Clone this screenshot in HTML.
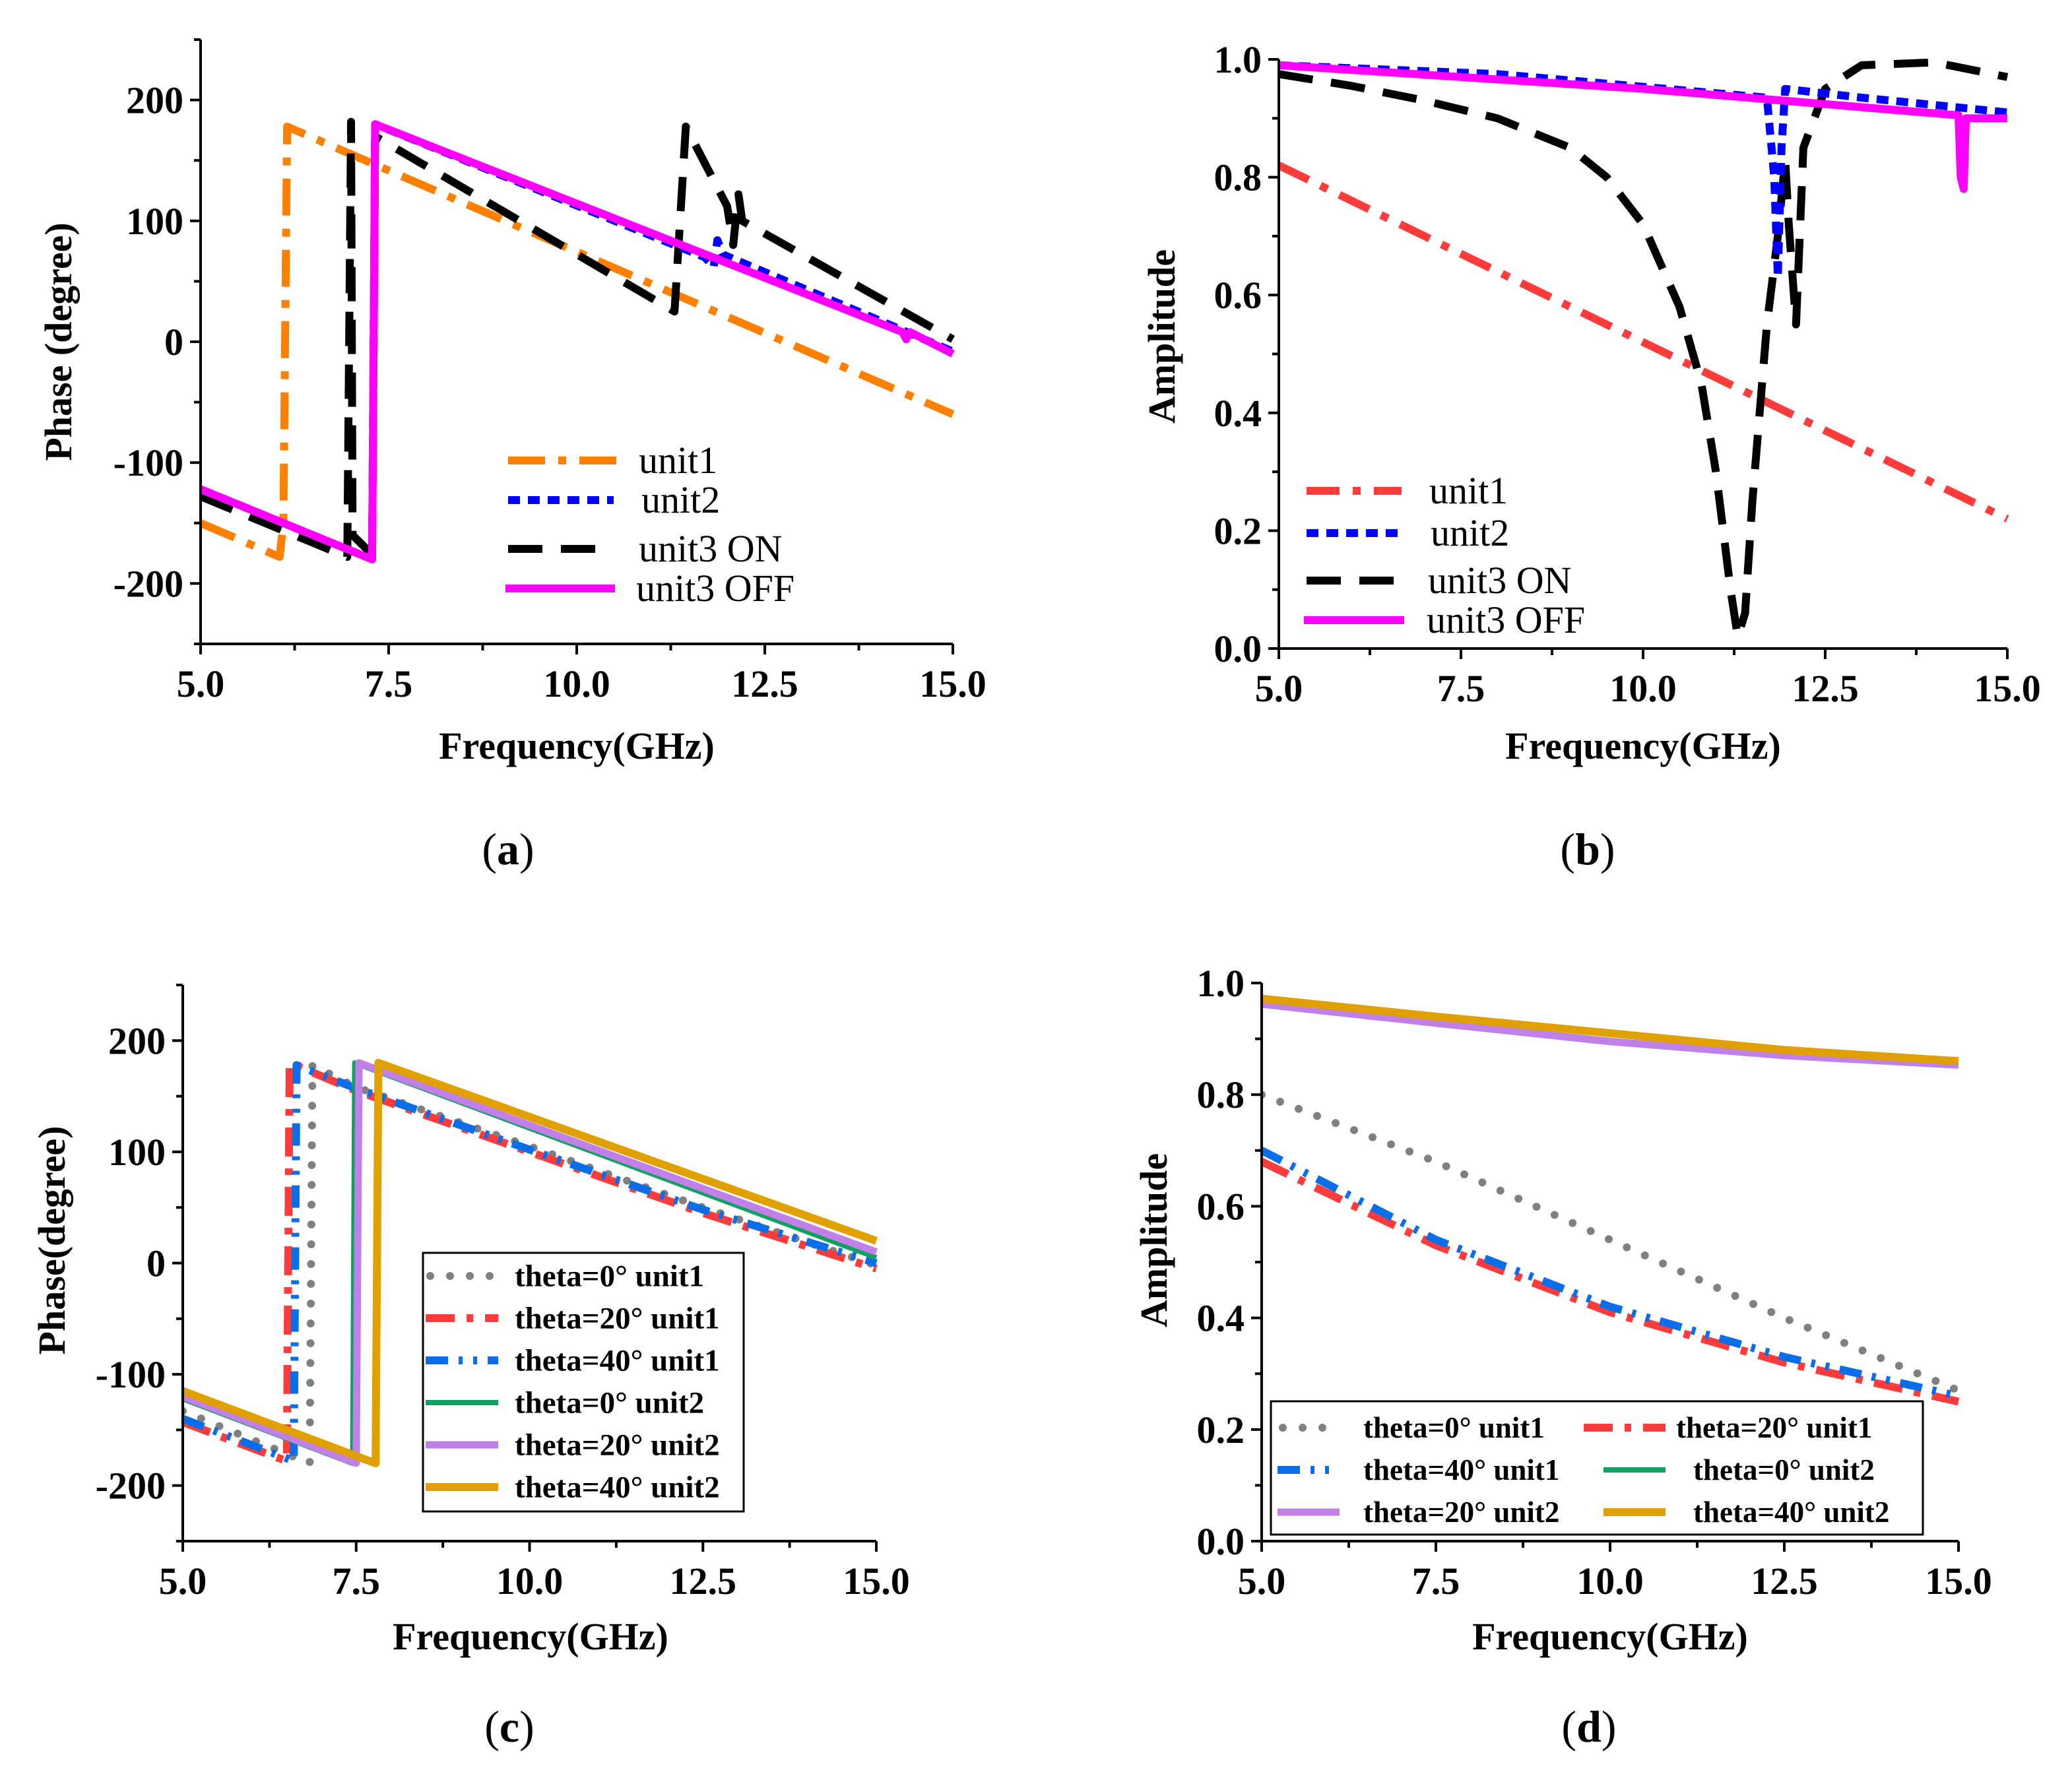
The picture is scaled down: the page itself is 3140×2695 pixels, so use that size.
<!DOCTYPE html>
<html><head><meta charset="utf-8"><style>
html,body{margin:0;padding:0;background:#fff}
svg{display:block}
text{font-family:"Liberation Serif",serif}
</style></head><body>
<svg id="fig" width="3140" height="2695" viewBox="0 0 3140 2695" xmlns="http://www.w3.org/2000/svg"></svg>
<script>
// ---------- Panel (a) data: phase ----------
const aUnit1F=[5,6.05,6.1,6.15,15];
const aUnit1V=[-150,-178,-150,178,-60];
const aUnit2F=[5,7.28,7.32,11.7,11.82,11.87,11.95,15];
const aUnit2V=[-122,-180,180,70,62,84,72,-8];
const aUnit3OnF=[5,6.95,7.0,7.02,7.28,7.32,11.3,11.45,12.0,12.08,12.15,12.2,15];
const aUnit3OnV=[-128,-178,182,-160,-176,170,25,178,112,80,122,100,2];
const aUnit3OffF=[5,7.28,7.32,14.33,14.38,14.43,15];
const aUnit3OffV=[-122,-180,180,8,2,8,-10];
// ---------- Panel (b) data: amplitude ----------
const bUnit1F=[5,7.5,10,12.5,15];
const bUnit1V=[0.82,0.67,0.52,0.37,0.22];
const bUnit2F=[5,8,11.7,11.8,11.85,11.9,11.95,13,15];
const bUnit2V=[0.99,0.975,0.935,0.80,0.63,0.85,0.95,0.935,0.91];
const bUnit3OnF=[5,6,7,8,9,9.5,10,10.5,10.8,11.0,11.2,11.3,11.4,11.5,11.7,11.85,11.95,12.0,12.1,12.15,12.2,12.5,13,14,15];
const bUnit3OnV=[0.975,0.955,0.93,0.9,0.85,0.8,0.72,0.58,0.45,0.3,0.1,0.02,0.06,0.25,0.55,0.7,0.83,0.72,0.55,0.7,0.85,0.95,0.99,0.995,0.97];
const bUnit3OffF=[5,10,14.33,14.36,14.4,14.43,15];
const bUnit3OffV=[0.99,0.95,0.905,0.8,0.78,0.9,0.9];
// ---------- Panel (c) data: phase vs theta ----------
const cT0U1F=[5,6.83,6.87,7.5,10,12.5,15];
const cT0U1V=[-133,-180,178,158,105,50,-2];
const cT20U1F=[5,6.5,6.54,7.5,10,12.5,15];
const cT20U1V=[-143,-178,180,155,100,45,-5];
const cT40U1F=[5,6.6,6.64,7.5,10,12.5,15];
const cT40U1V=[-140,-178,178,157,102,48,0];
const cT0U2F=[5,7.45,7.48,15];
const cT0U2V=[-122,-180,180,5];
const cT20U2F=[5,7.5,7.54,15];
const cT20U2V=[-120,-180,180,10];
const cT40U2F=[5,7.78,7.82,15];
const cT40U2V=[-115,-180,180,20];
// ---------- Panel (d) data: amplitude vs theta ----------
const dF=[5,7.5,10,12.5,15];
const dT0U1=[0.80,0.68,0.54,0.40,0.27];
const dT20U1=[0.68,0.53,0.41,0.32,0.25];
const dT40U1=[0.70,0.54,0.42,0.33,0.26];
const dT0U2=[0.963,0.93,0.897,0.872,0.855];
const dT20U2=[0.962,0.928,0.895,0.87,0.853];
const dT40U2=[0.972,0.94,0.91,0.88,0.86];
// ticks
const xTicks=[5,7.5,10,12.5,15];
const xTickLabels=["5.0","7.5","10.0","12.5","15.0"];
const phaseTicks=[-200,-100,0,100,200];
const phaseTickLabels=["-200","-100","0","100","200"];
const ampTicks=[0,0.2,0.4,0.6,0.8,1.0];
const ampTickLabels=["0.0","0.2","0.4","0.6","0.8","1.0"];

const NS="http://www.w3.org/2000/svg";
const svg=document.getElementById('fig');
function mk(tag,attrs,parent){const e=document.createElementNS(NS,tag);for(const k in attrs)e.setAttribute(k,attrs[k]);(parent||svg).appendChild(e);return e;}

const STY={
 orangeDD:{stroke:'#ff8000',w:12,dash:'56 20 12 20'},
 blueDot:{stroke:'#0000ff',w:12,dash:'18 12'},
 blackDash:{stroke:'#000000',w:12,dash:'52 28'},
 magenta:{stroke:'#ff00ff',w:12,dash:''},
 redDD:{stroke:'#ff3b3b',w:12,dash:'50 20 12 20'},
 gray:{stroke:'#808080',w:12,dash:'0 30',cap:'round'},
 red2:{stroke:'#ff3b3b',w:12,dash:'44 18 10 18'},
 blue2:{stroke:'#0a6ee8',w:12,dash:'34 16 6 16 6 16'},
 green:{stroke:'#10a060',w:8,dash:''},
 purple:{stroke:'#c080e8',w:11,dash:''},
 gold:{stroke:'#e0a000',w:12,dash:''}
};

function panel(p){
 const g=mk('g',{});
 
 
 const sx=f=>p.x0+(f-p.xmin)/(p.xmax-p.xmin)*(p.x1-p.x0);
 const sy=v=>p.yb+(v-p.ymin)/(p.ymax-p.ymin)*(p.yt-p.yb);
 const clip=mk('clipPath',{id:'clip'+p.id},g);
 mk('rect',{x:p.x0,y:p.yt-10,width:p.x1-p.x0+6,height:p.yb-p.yt+10},clip);
 const sg=mk('g',{'clip-path':'url(#clip'+p.id+')'},g);
 p.series.forEach(s=>{
  const st=STY[s.style];
  const d=s.f.map((f,i)=>(i?'L':'M')+sx(f).toFixed(1)+' '+sy(s.v[i]).toFixed(1)).join(' ');
  const path=mk('path',{d:d,fill:'none',stroke:st.stroke,'stroke-width':st.w,'stroke-dasharray':st.dash,'stroke-linecap':st.cap||'butt','stroke-linejoin':'round'},sg);
  
  
 });
 const ax=mk('g',{stroke:'#000','stroke-width':4},g);
 
 
 mk('line',{x1:p.x0,y1:p.yt,x2:p.x0,y2:p.yb+2},ax);
 mk('line',{x1:p.x0-2,y1:p.yb,x2:p.x1,y2:p.yb},ax);
 xTicks.forEach((t,i)=>{
  mk('line',{x1:sx(t),y1:p.yb,x2:sx(t),y2:p.yb+16},ax);
  if(i<xTicks.length-1){const m=sx(t+1.25);mk('line',{x1:m,y1:p.yb,x2:m,y2:p.yb+10},ax);}
  const tx=mk('text',{x:sx(t),y:p.yb+80,'text-anchor':'middle','font-size':58,'font-weight':'bold'},g);
  tx.textContent=xTickLabels[i];
  
  
 });
 p.yticks.forEach((t,i)=>{
  mk('line',{x1:p.x0,y1:sy(t),x2:p.x0-16,y2:sy(t)},ax);
  const ty=mk('text',{x:p.x0-26,y:sy(t)+20,'text-anchor':'end','font-size':58,'font-weight':'bold'},g);
  ty.textContent=p.ylabels[i];
  
  
 });
 p.yminor.forEach(t=>{mk('line',{x1:p.x0,y1:sy(t),x2:p.x0-10,y2:sy(t)},ax);});
 const xt=mk('text',{x:p.xlx,y:p.xly,'text-anchor':'middle','font-size':58,'font-weight':'bold'},g);
 xt.textContent='Frequency(GHz)';
 
 
 const yt=mk('text',{x:0,y:0,transform:`translate(${p.ylx},${p.yly}) rotate(-90)`,'text-anchor':'middle','font-size':58,'font-weight':'bold'},g);
 yt.textContent=p.ytitle;
 
 
 const pl=mk('text',{x:p.plx,y:p.ply,'text-anchor':'middle','font-size':68},g);
 pl.innerHTML='(<tspan font-weight="bold">'+p.letter+'</tspan>)';
 
 
 if(p.box){const b=mk('rect',{x:p.box[0],y:p.box[1],width:p.box[2],height:p.box[3],fill:'#fff',stroke:'#000','stroke-width':3},g);}
 p.legend.forEach(l=>{
  const st=STY[l.style];
  const lg=mk('g',{},g);
  
  
  mk('line',{x1:l.lx0,y1:l.y,x2:l.lx1,y2:l.y,stroke:st.stroke,'stroke-width':st.w,'stroke-dasharray':st.dash,'stroke-linecap':st.cap||'butt'},lg);
  const t=mk('text',{x:l.tx,y:l.y+(p.lfs*0.33),'font-size':p.lfs,'font-weight':p.lbold?'bold':'normal'},lg);
  t.textContent=l.text;
 });
}

const phMinor=[-250,-150,-50,50,150,250];
const ampMinor=[0.1,0.3,0.5,0.7,0.9];

panel({id:'a',name:'panel-a-phase',letter:'a',x0:304,x1:1444,xmin:5,xmax:15,yt:60,yb:976,ymin:-250,ymax:250,
 yticks:phaseTicks,ylabels:phaseTickLabels,yminor:phMinor,ytitle:'Phase (degree)',ylx:108,yly:518,xlx:874,xly:1150,plx:770,ply:1310,
 series:[{name:'unit1-line',style:'orangeDD',f:aUnit1F,v:aUnit1V},{name:'unit3-on-line',style:'blackDash',f:aUnit3OnF,v:aUnit3OnV},{name:'unit2-line',style:'blueDot',f:aUnit2F,v:aUnit2V},{name:'unit3-off-line',style:'magenta',f:aUnit3OffF,v:aUnit3OffV}],
 lfs:58,lbold:false,legend:[
  {style:'orangeDD',lx0:770,lx1:940,tx:968,y:698,text:'unit1'},
  {style:'blueDot',lx0:770,lx1:930,tx:972,y:758,text:'unit2'},
  {style:'blackDash',lx0:770,lx1:930,tx:968,y:832,text:'unit3 ON'},
  {style:'magenta',lx0:766,lx1:932,tx:964,y:892,text:'unit3 OFF'}]});

panel({id:'b',name:'panel-b-amplitude',letter:'b',x0:1938,x1:3042,xmin:5,xmax:15,yt:90,yb:983,ymin:0,ymax:1.0,
 yticks:ampTicks,ylabels:ampTickLabels,yminor:ampMinor,ytitle:'Amplitude',ylx:1780,yly:510,xlx:2490,xly:1150,plx:2406,ply:1310,
 series:[{name:'unit1-line',style:'redDD',f:bUnit1F,v:bUnit1V},{name:'unit3-on-line',style:'blackDash',f:bUnit3OnF,v:bUnit3OnV},{name:'unit2-line',style:'blueDot',f:bUnit2F,v:bUnit2V},{name:'unit3-off-line',style:'magenta',f:bUnit3OffF,v:bUnit3OffV}],
 lfs:58,lbold:false,legend:[
  {style:'redDD',lx0:1980,lx1:2124,tx:2166,y:744,text:'unit1'},
  {style:'blueDot',lx0:1980,lx1:2124,tx:2168,y:808,text:'unit2'},
  {style:'blackDash',lx0:1980,lx1:2124,tx:2164,y:880,text:'unit3 ON'},
  {style:'magenta',lx0:1976,lx1:2128,tx:2162,y:940,text:'unit3 OFF'}]});

panel({id:'c',name:'panel-c-phase-theta',letter:'c',x0:277,x1:1328,xmin:5,xmax:15,yt:1493,yb:2336,ymin:-250,ymax:250,
 yticks:phaseTicks,ylabels:phaseTickLabels,yminor:phMinor,ytitle:'Phase(degree)',ylx:98,yly:1880,xlx:804,xly:2500,plx:772,ply:2640,
 series:[{name:'theta0-unit1-line',style:'gray',f:cT0U1F,v:cT0U1V},{name:'theta20-unit1-line',style:'red2',f:cT20U1F,v:cT20U1V},{name:'theta40-unit1-line',style:'blue2',f:cT40U1F,v:cT40U1V},{name:'theta0-unit2-line',style:'green',f:cT0U2F,v:cT0U2V},{name:'theta20-unit2-line',style:'purple',f:cT20U2F,v:cT20U2V},{name:'theta40-unit2-line',style:'gold',f:cT40U2F,v:cT40U2V}],
 box:[641,1899,486,392],lfs:47,lbold:true,legend:[
  {style:'gray',lx0:652,lx1:755,tx:780,y:1934,text:'theta=0° unit1'},
  {style:'red2',lx0:645,lx1:755,tx:780,y:1998,text:'theta=20° unit1'},
  {style:'blue2',lx0:645,lx1:755,tx:780,y:2062,text:'theta=40° unit1'},
  {style:'green',lx0:645,lx1:755,tx:780,y:2126,text:'theta=0° unit2'},
  {style:'purple',lx0:645,lx1:755,tx:780,y:2190,text:'theta=20° unit2'},
  {style:'gold',lx0:645,lx1:755,tx:780,y:2254,text:'theta=40° unit2'}]});

panel({id:'d',name:'panel-d-amplitude-theta',letter:'d',x0:1912,x1:2968,xmin:5,xmax:15,yt:1490,yb:2336,ymin:0,ymax:1.0,
 yticks:ampTicks,ylabels:ampTickLabels,yminor:ampMinor,ytitle:'Amplitude',ylx:1768,yly:1880,xlx:2440,xly:2500,plx:2408,ply:2640,
 series:[{name:'theta0-unit1-line',style:'gray',f:dF,v:dT0U1},{name:'theta20-unit1-line',style:'red2',f:dF,v:dT20U1},{name:'theta40-unit1-line',style:'blue2',f:dF,v:dT40U1},{name:'theta0-unit2-line',style:'green',f:dF,v:dT0U2},{name:'theta20-unit2-line',style:'purple',f:dF,v:dT20U2},{name:'theta40-unit2-line',style:'gold',f:dF,v:dT40U2}],
 box:[1926,2124,988,202],lfs:45,lbold:true,legend:[
  {style:'gray',lx0:1944,lx1:2030,tx:2066,y:2164,text:'theta=0° unit1'},
  {style:'red2',lx0:2400,lx1:2524,tx:2540,y:2164,text:'theta=20° unit1'},
  {style:'blue2',lx0:1936,lx1:2030,tx:2066,y:2228,text:'theta=40° unit1'},
  {style:'green',lx0:2430,lx1:2524,tx:2566,y:2228,text:'theta=0° unit2'},
  {style:'purple',lx0:1936,lx1:2030,tx:2066,y:2292,text:'theta=20° unit2'},
  {style:'gold',lx0:2430,lx1:2524,tx:2566,y:2292,text:'theta=40° unit2'}]});
</script>
</body></html>
